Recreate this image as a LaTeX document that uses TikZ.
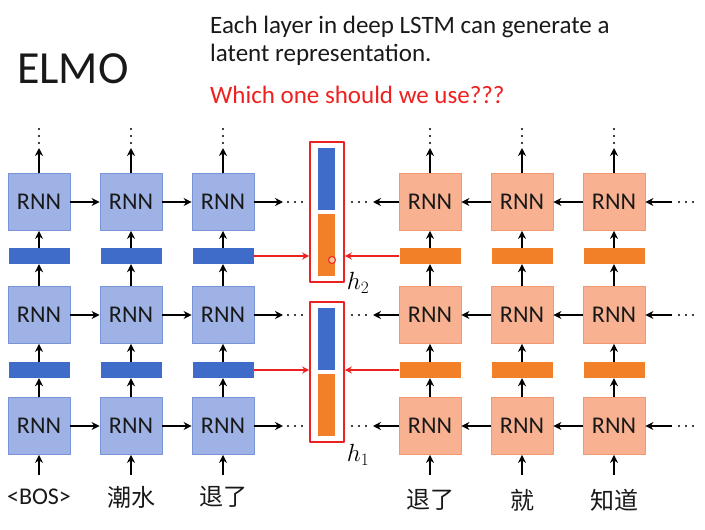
\documentclass[tikz,border=0pt]{standalone}
\usepackage{fontspec}
\setmainfont{Carlito}
\newfontfamily\cjk{Noto Sans CJK SC}
\usetikzlibrary{positioning,arrows.meta}
\definecolor{rnnblue}{RGB}{158,178,230}
\definecolor{rnnblueline}{RGB}{120,148,215}
\definecolor{barblue}{RGB}{62,108,200}
\definecolor{rnnorange}{RGB}{249,178,145}
\definecolor{rnnorangeline}{RGB}{242,152,112}
\definecolor{barorange}{RGB}{242,128,40}
\definecolor{hred}{RGB}{238,32,32}
\definecolor{txt}{RGB}{25,25,25}
\tikzset{
  rnnbox/.style={draw=#1line, fill=#1, line width=0.8pt, minimum width=62pt, minimum height=57pt, inner sep=0pt, font=\fontsize{24}{24}\selectfont, text=txt},
  hbar/.style={fill=#1, minimum width=61pt, minimum height=16pt, inner sep=0pt},
  vecbar/.style={fill=#1, minimum width=17pt, minimum height=62pt, inner sep=0pt},
  word/.style={font=\fontsize{24}{24}\selectfont, text=txt, inner sep=0pt},
  dotline/.style={line width=2.2pt, dash pattern=on 0pt off 7pt, line cap=round},
  flow/.style={-{Stealth[length=8pt,width=8pt]}, line width=2.2pt},
  pick/.style={-{Stealth[length=7pt,width=7pt]}, hred, line width=1.5pt},
  head/.style={anchor=base west, inner sep=0pt, font=\fontsize{25}{25}\selectfont, text=txt},
}
\begin{document}
\begin{tikzpicture}[x=1pt, y=-1pt, line join=round]
\useasboundingbox (0,0) rectangle (705,530);
% header
\node[anchor=base west, inner sep=0pt, font=\fontsize{46}{46}\selectfont, text=txt] (title) at (17,83) {ELMO};
\node[head] (line1) at (210,33) {Each layer in deep LSTM can generate a};
\node[head] (line2) at (210,61) {latent representation.};
\node[head, text=hred] (line3) at (210,103) {Which one should we use???};
% forward RNN (left) and backward RNN (right)
\foreach \c/\x in {1/39,2/131,3/223,4/430,5/522,6/614}{
  \ifnum\c<4 \def\col{rnnblue}\def\bcol{barblue}\else \def\col{rnnorange}\def\bcol{barorange}\fi
  \foreach \r/\y in {1/426,2/315,3/202} \node[rnnbox=\col] (r\c\r) at (\x,\y) {RNN};
  \foreach \b/\y in {1/370,2/256} \node[hbar=\bcol] (b\c\b) at (\x,\y) {};
  \draw[flow] (r\c1) -- (b\c1);
  \draw[flow] (b\c1) -- (r\c2);
  \draw[flow] (r\c2) -- (b\c2);
  \draw[flow] (b\c2) -- (r\c3);
  \coordinate (t\c) at (\x,148);
  \draw[flow] (r\c3) -- (t\c);
  \draw[dotline] (\x,143) -- (\x,128.5);
}
% inputs
\node[word] (w1) at (39,497) {<BOS>};
\node[word] (w2) at (131,497) {\cjk 潮水};
\node[word] (w3) at (223,497) {\cjk 退了};
\node[word] (w4) at (430,500) {\cjk 退了};
\node[word] (w5) at (522,500) {\cjk 就};
\node[word] (w6) at (614,500) {\cjk 知道};
\foreach \c in {1,...,6} \draw[flow, shorten <=5pt] (w\c.north |- 0,480) -- (r\c1);
% recurrent connections
\foreach \r/\y in {1/426,2/315,3/202}{
  \draw[flow] (r1\r) -- (r2\r);
  \draw[flow] (r2\r) -- (r3\r);
  \coordinate (le\r) at (283,\y);
  \draw[flow] (r3\r) -- (le\r);
  \draw[dotline] (288,\y) -- ++(14.5,0);
  \draw[flow] (r6\r) -- (r5\r);
  \draw[flow] (r5\r) -- (r4\r);
  \coordinate (re\r) at (373,\y);
  \draw[flow] (r4\r) -- (re\r);
  \draw[dotline] (352,\y) -- ++(14.5,0);
  \coordinate (rs\r) at (672,\y);
  \draw[flow] (rs\r) -- (r6\r);
  \draw[dotline] (679,\y) -- ++(14.5,0);
}
% concatenated hidden vectors
\foreach \h/\y in {1/372,2/212}{
  \node[draw=hred, line width=1.6pt, minimum width=34pt, minimum height=140pt, inner sep=0pt] (h\h) at (327,\y) {};
  \node[vecbar=barblue] (hb\h) at (326.5,\y-33) {};
  \node[vecbar=barorange] (ho\h) at (326.5,\y+33) {};
  \draw[pick] (b3\h) -- (b3\h -| h\h.west);
  \draw[pick] (b4\h) -- (b4\h -| h\h.east);
}
\node[font=\fontsize{24}{24}\selectfont] (h2lab) at (358,283) {$h_2$};
\node[font=\fontsize{24}{24}\selectfont] (h1lab) at (358,455) {$h_1$};
\draw[hred, line width=1pt, fill=white, fill opacity=0.5] (332,260) circle (3.5pt);
\end{tikzpicture}
\end{document}
